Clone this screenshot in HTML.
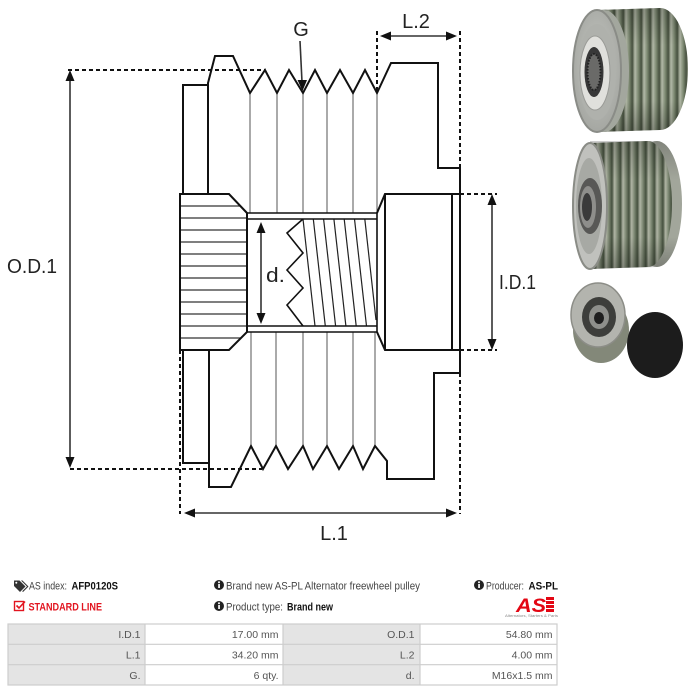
<!DOCTYPE html>
<html><head><meta charset="utf-8">
<style>
html,body{margin:0;padding:0;background:#fff;}
svg{display:block;}
</style></head><body>
<svg width="689" height="692" viewBox="0 0 689 692" xmlns="http://www.w3.org/2000/svg" font-family="Liberation Sans, sans-serif">
<defs>
  <linearGradient id="str1" gradientUnits="userSpaceOnUse" x1="617" y1="0" x2="626" y2="0" spreadMethod="repeat">
    <stop offset="0" stop-color="#b3b9a8"/>
    <stop offset="0.35" stop-color="#7e8a73"/>
    <stop offset="0.7" stop-color="#46503e"/>
    <stop offset="1" stop-color="#b3b9a8"/>
  </linearGradient>
  <linearGradient id="str2" gradientUnits="userSpaceOnUse" x1="606" y1="0" x2="614.5" y2="0" spreadMethod="repeat">
    <stop offset="0" stop-color="#b1b6a6"/>
    <stop offset="0.35" stop-color="#7b8671"/>
    <stop offset="0.7" stop-color="#45503e"/>
    <stop offset="1" stop-color="#b1b6a6"/>
  </linearGradient>
  <linearGradient id="shade" x1="0" y1="0" x2="0" y2="1">
    <stop offset="0" stop-color="#000" stop-opacity="0.2"/>
    <stop offset="0.3" stop-color="#000" stop-opacity="0"/>
    <stop offset="0.75" stop-color="#000" stop-opacity="0"/>
    <stop offset="1" stop-color="#000" stop-opacity="0.25"/>
  </linearGradient>
  <radialGradient id="face" cx="0.5" cy="0.45" r="0.6">
    <stop offset="0" stop-color="#c6c8c3"/>
    <stop offset="1" stop-color="#a2a49f"/>
  </radialGradient>
</defs>

<!-- ============ DIAGRAM ============ -->
<g stroke="#111" stroke-width="2" stroke-dasharray="4 3" fill="none">
  <line x1="377" y1="31" x2="377" y2="93"/>
  <line x1="460" y1="31" x2="460" y2="168"/>
  <line x1="460" y1="373" x2="460" y2="514"/>
  <line x1="68" y1="70" x2="265" y2="70"/>
  <line x1="70" y1="469" x2="262" y2="469"/>
  <line x1="180" y1="350" x2="180" y2="514"/>
  <line x1="460" y1="194" x2="497" y2="194"/>
  <line x1="460" y1="350" x2="497" y2="350"/>
</g>

<g stroke="#555" stroke-width="1" fill="none">
  <line x1="250" y1="93" x2="250" y2="213"/>
  <line x1="277" y1="93" x2="277" y2="213"/>
  <line x1="303" y1="93" x2="303" y2="213"/>
  <line x1="327" y1="93" x2="327" y2="213"/>
  <line x1="353" y1="93" x2="353" y2="213"/>
  <line x1="377" y1="93" x2="377" y2="213"/>
  <line x1="251" y1="332" x2="251" y2="446"/>
  <line x1="276" y1="332" x2="276" y2="446"/>
  <line x1="303" y1="332" x2="303" y2="446"/>
  <line x1="327" y1="332" x2="327" y2="446"/>
  <line x1="353" y1="332" x2="353" y2="446"/>
  <line x1="375" y1="332" x2="375" y2="446"/>
</g>

<g stroke="#333" stroke-width="1.2" fill="none">
  <line x1="180" y1="206" x2="240" y2="206"/>
  <line x1="180" y1="218" x2="247" y2="218"/>
  <line x1="180" y1="230" x2="247" y2="230"/>
  <line x1="180" y1="242" x2="247" y2="242"/>
  <line x1="180" y1="254" x2="247" y2="254"/>
  <line x1="180" y1="266" x2="247" y2="266"/>
  <line x1="180" y1="278" x2="247" y2="278"/>
  <line x1="180" y1="290" x2="247" y2="290"/>
  <line x1="180" y1="302" x2="247" y2="302"/>
  <line x1="180" y1="314" x2="247" y2="314"/>
  <line x1="180" y1="326" x2="247" y2="326"/>
  <line x1="180" y1="338" x2="241" y2="338"/>
</g>

<g stroke="#222" stroke-width="1.2" fill="none">
  <line x1="303" y1="219" x2="315" y2="326"/>
  <line x1="313.3" y1="219" x2="325.3" y2="326"/>
  <line x1="323.6" y1="219" x2="335.6" y2="326"/>
  <line x1="333.9" y1="219" x2="345.9" y2="326"/>
  <line x1="344.2" y1="219" x2="356.2" y2="326"/>
  <line x1="354.5" y1="219" x2="366.5" y2="326"/>
  <line x1="364.8" y1="219" x2="376" y2="320"/>
</g>
<path d="M303,219 L287,233 L303,253 L287,270 L303,288 L287,305 L303,326" stroke="#111" stroke-width="1.6" fill="none"/>

<g stroke="#111" stroke-width="2" fill="none" stroke-linejoin="miter">
  <path d="M183,194 V85 H208"/>
  <path d="M208,194 V83 L215,56 H233 L250,93 L265,70 L277,93 L289,70 L303,93 L315,70 L327,93 L340,70 L353,93 L365,70 L377,93 L391,63 H438 V168 H460 V373 H434 V479 H387 V461 L375,446 L363,469 L353,446 L339,469 L327,446 L313,469 L303,446 L288,469 L276,446 L263,469 L251,446 L231,487 H209 V350"/>
  <path d="M183,350 V463 H209"/>
  <path d="M247,213 L229,194 H180 V350 H229 L247,332 Z"/>
  <path d="M377,213 L385,194 H460 M377,332 L385,350 H460 M385,194 V350 M452,194 V350"/>
</g>
<g stroke="#111" stroke-width="1.6" fill="none">
  <path d="M247,213 H377 M247,219 H377 M247,326 H377 M247,332 H377 M377,213 V332"/>
</g>

<g stroke="#333" stroke-width="1.6" fill="none">
  <line x1="70" y1="78" x2="70" y2="460"/>
  <line x1="492" y1="202" x2="492" y2="342"/>
  <line x1="261" y1="230" x2="261" y2="316"/>
  <line x1="191" y1="513" x2="449" y2="513"/>
  <line x1="389" y1="36" x2="448" y2="36"/>
  <line x1="300" y1="41" x2="302" y2="82"/>
</g>
<g fill="#111">
  <polygon points="70,70 65.5,81 74.5,81"/>
  <polygon points="70,468 65.5,457 74.5,457"/>
  <polygon points="492,194 487.5,205 496.5,205"/>
  <polygon points="492,350 487.5,339 496.5,339"/>
  <polygon points="261,222 256.5,233 265.5,233"/>
  <polygon points="261,324 256.5,313 265.5,313"/>
  <polygon points="184,513 195,508.5 195,517.5"/>
  <polygon points="457,513 446,508.5 446,517.5"/>
  <polygon points="380,36 391,31.5 391,40.5"/>
  <polygon points="457,36 446,31.5 446,40.5"/>
  <polygon points="302.5,91 297.5,80 307,80"/>
</g>

<g fill="#222" font-size="20">
  <text x="301" y="36" text-anchor="middle">G</text>
  <text x="416" y="28" text-anchor="middle">L.2</text>
  <text x="7" y="273" textLength="50" lengthAdjust="spacingAndGlyphs">O.D.1</text>
  <text x="499" y="289" textLength="37" lengthAdjust="spacingAndGlyphs">I.D.1</text>
  <text x="266" y="282" textLength="19" lengthAdjust="spacingAndGlyphs">d.</text>
  <text x="334" y="540" text-anchor="middle">L.1</text>
</g>

<!-- ============ PHOTOS ============ -->
<path d="M597,10 L660,8 A28,61 0 0 1 660,130 L597,132 Z" fill="url(#str1)"/>
<path d="M597,10 L660,8 A28,61 0 0 1 660,130 L597,132 Z" fill="url(#shade)"/>
<ellipse cx="604" cy="71" rx="25" ry="61" fill="#a3a79e"/>
<ellipse cx="597" cy="71" rx="24" ry="61" fill="url(#face)" stroke="#8a8c87" stroke-width="2"/>
<ellipse cx="597" cy="72" rx="19" ry="48" fill="#afb1ac"/>
<ellipse cx="595" cy="73" rx="15" ry="37" fill="#e0e0dc" stroke="#9a9b97" stroke-width="1"/>
<ellipse cx="594" cy="72" rx="9.5" ry="25" fill="#383838"/>
<ellipse cx="594" cy="72" rx="6.5" ry="18" fill="#6a6a68" stroke="#222" stroke-width="2" stroke-dasharray="1.5 1.5"/>

<ellipse cx="657" cy="204" rx="25" ry="63" fill="#a2a69b"/>
<path d="M590,143 L648,141 A24,63 0 0 1 648,267 L590,269 Z" fill="url(#str2)"/>
<path d="M590,141 L657,141 A25,63 0 0 1 657,267 L590,269 Z" fill="url(#shade)"/>
<ellipse cx="590" cy="206" rx="17" ry="63" fill="#c0c1bd" stroke="#8a8c86" stroke-width="2"/>
<ellipse cx="589" cy="206" rx="13" ry="48" fill="#a7a9a4"/>
<ellipse cx="590" cy="206" rx="12" ry="28" fill="#585856"/>
<ellipse cx="588" cy="207" rx="8" ry="21" fill="#8e8e8b"/>
<ellipse cx="587" cy="207" rx="5" ry="14" fill="#3a3a3a"/>

<ellipse cx="601" cy="330" rx="28" ry="33" fill="#838879"/>
<ellipse cx="598" cy="315" rx="27" ry="32" fill="#b3b4ae" stroke="#8c8d87" stroke-width="1.5"/>
<ellipse cx="599" cy="317" rx="17" ry="20" fill="#3d3e3b"/>
<ellipse cx="599" cy="317" rx="10" ry="12" fill="#8e8f8b"/>
<ellipse cx="599" cy="318" rx="5" ry="6" fill="#1e1e1e"/>
<ellipse cx="655" cy="345" rx="28" ry="33" fill="#1c1c1c"/>

<!-- ============ INFO ============ -->
<g fill="#333">
  <path d="M14,580.5 H19.5 L25.5,586.5 L20,592 L14,586 Z"/>
  <path d="M21,580.5 H22.5 L28.5,586.5 L23,592 L22.2,591.2 L27,586.5 Z"/>
</g>
<circle cx="16.3" cy="582.8" r="1" fill="#fff"/>
<text x="29" y="589.5" font-size="11" fill="#444" textLength="38" lengthAdjust="spacingAndGlyphs">AS index:</text>
<text x="71.5" y="589.5" font-size="11" font-weight="bold" fill="#111" textLength="46.5" lengthAdjust="spacingAndGlyphs">AFP0120S</text>

<g>
  <circle cx="219" cy="585" r="5" fill="#222"/>
  <rect x="218.2" y="584" width="1.7" height="4" fill="#fff"/>
  <circle cx="219" cy="582.3" r="1" fill="#fff"/>
  <circle cx="219" cy="606" r="5" fill="#222"/>
  <rect x="218.2" y="605" width="1.7" height="4" fill="#fff"/>
  <circle cx="219" cy="603.3" r="1" fill="#fff"/>
  <circle cx="479" cy="585" r="5" fill="#222"/>
  <rect x="478.2" y="584" width="1.7" height="4" fill="#fff"/>
  <circle cx="479" cy="582.3" r="1" fill="#fff"/>
</g>
<text x="226" y="589.5" font-size="11" fill="#444" textLength="194" lengthAdjust="spacingAndGlyphs">Brand new AS-PL Alternator freewheel pulley</text>
<text x="486" y="589.5" font-size="11" fill="#444" textLength="38" lengthAdjust="spacingAndGlyphs">Producer:</text>
<text x="528.5" y="589.5" font-size="11" font-weight="bold" fill="#111" textLength="29.5" lengthAdjust="spacingAndGlyphs">AS-PL</text>

<rect x="14.5" y="601.5" width="9" height="9" fill="none" stroke="#e2141f" stroke-width="1.4"/>
<path d="M16.5,605.5 L19,608 L25,601.5" fill="none" stroke="#e2141f" stroke-width="1.6"/>
<text x="28.5" y="610.5" font-size="11" font-weight="bold" fill="#e2141f" textLength="73.5" lengthAdjust="spacingAndGlyphs">STANDARD LINE</text>
<text x="226" y="610.5" font-size="11" fill="#444" textLength="57" lengthAdjust="spacingAndGlyphs">Product type:</text>
<text x="287" y="610.5" font-size="11" font-weight="bold" fill="#111" textLength="46" lengthAdjust="spacingAndGlyphs">Brand new</text>

<text x="516" y="612" font-size="19" font-weight="bold" font-style="italic" fill="#e30613" textLength="30" lengthAdjust="spacingAndGlyphs">AS</text>
<rect x="546" y="597" width="8" height="15" fill="#e30613"/>
<g stroke="#fff" stroke-width="1">
  <line x1="546" y1="600.5" x2="554" y2="600.5"/>
  <line x1="546" y1="604.5" x2="554" y2="604.5"/>
  <line x1="546" y1="608.5" x2="554" y2="608.5"/>
</g>
<text x="505" y="617" font-size="4" fill="#888" textLength="53" lengthAdjust="spacingAndGlyphs">Alternators, Starters &amp; Parts</text>

<rect x="8" y="624" width="137" height="61" fill="#e4e4e4"/>
<rect x="283" y="624" width="137" height="61" fill="#e4e4e4"/>
<g stroke="#cdcdcd" stroke-width="1.2" fill="none">
  <rect x="8" y="624" width="549" height="61"/>
  <line x1="8" y1="644.3" x2="557" y2="644.3"/>
  <line x1="8" y1="664.7" x2="557" y2="664.7"/>
  <line x1="145" y1="624" x2="145" y2="685"/>
  <line x1="283" y1="624" x2="283" y2="685"/>
  <line x1="420" y1="624" x2="420" y2="685"/>
</g>
<g font-size="10.5" fill="#555" text-anchor="end">
  <text x="140.5" y="638">I.D.1</text>
  <text x="278.5" y="638">17.00 mm</text>
  <text x="414.5" y="638">O.D.1</text>
  <text x="552.5" y="638">54.80 mm</text>
  <text x="140.5" y="658.5">L.1</text>
  <text x="278.5" y="658.5">34.20 mm</text>
  <text x="414.5" y="658.5">L.2</text>
  <text x="552.5" y="658.5">4.00 mm</text>
  <text x="140.5" y="679">G.</text>
  <text x="278.5" y="679">6 qty.</text>
  <text x="414.5" y="679">d.</text>
  <text x="552.5" y="679">M16x1.5 mm</text>
</g>
</svg>
</body></html>
